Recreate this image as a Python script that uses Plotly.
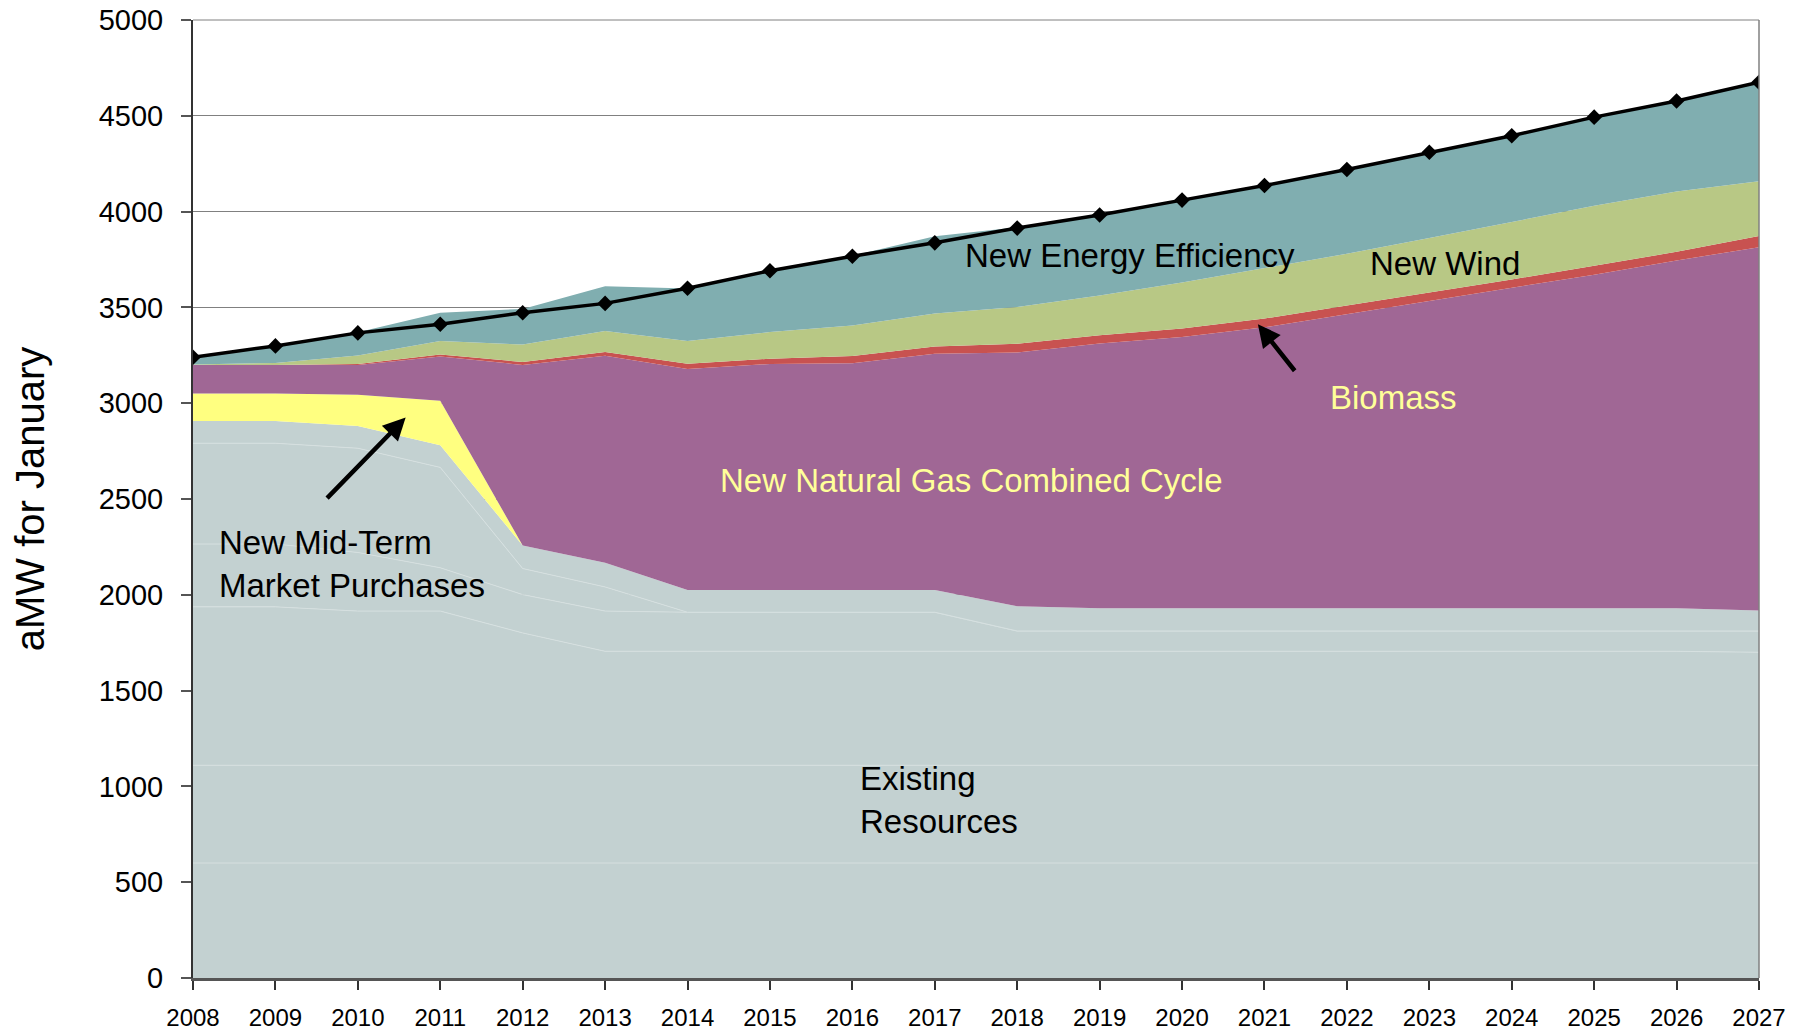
import plotly.graph_objects as go

years = list(range(2008, 2028))

# Existing resources (several sub-layers, same colour)
existing_1 = [600] * 20
existing_2 = [510] * 20
existing_3 = [827, 827, 805, 805, 691, 595, 595, 595, 595, 595, 595, 595, 595, 595, 595, 595, 595, 595, 595, 590]
existing_4 = [328, 328, 306, 226, 200, 210, 204, 204, 204, 204, 106, 106, 106, 106, 106, 106, 106, 106, 106, 111]
existing_5 = [526, 526, 544, 524, 136, 126, 0, 0, 0, 0, 0, 0, 0, 0, 0, 0, 0, 0, 0, 0]
existing_6 = [116, 116, 116, 116, 120, 126, 116, 116, 116, 116, 129, 119, 119, 119, 119, 119, 119, 119, 119, 107]

mid_term = [144, 144, 163, 232, 0, 0, 0, 0, 0, 0, 0, 0, 0, 0, 0, 0, 0, 0, 0, 0]
ngcc = [149, 149, 156, 231, 943, 1080, 1154, 1180, 1184, 1233, 1325, 1382, 1416, 1466, 1534, 1603, 1671, 1741, 1815, 1896]
biomass = [0, 0, 5, 10, 15, 20, 27, 27, 37, 38, 45, 42, 44, 46, 46, 44, 45, 47, 45, 58]
wind = [2, 10, 44, 71, 91, 110, 119, 139, 160, 172, 192, 208, 240, 263, 270, 285, 300, 312, 315, 286]
energy_eff = [38, 89, 121, 147, 186, 234, 274, 325, 364, 403, 416, 422, 430, 431, 440, 450, 451, 463, 477, 517]

load = [3240, 3299, 3367, 3412, 3472, 3521, 3600, 3691, 3767, 3837, 3914, 3982, 4060, 4136, 4220, 4310, 4396, 4493, 4577, 4675]

GRAY = "#c3d1d1"
SUBLINE = "#d6e0e0"
FONT = "Liberation Sans, Arial, sans-serif"

fig = go.Figure()

for i, vals in enumerate([existing_1, existing_2, existing_3, existing_4, existing_5, existing_6]):
    fig.add_trace(go.Scatter(
        x=years, y=vals, stackgroup="one", mode="lines",
        line=dict(width=1 if i < 5 else 0, color=SUBLINE),
        fillcolor=GRAY, name=f"Existing Resources {i+1}", showlegend=False,
        hoverinfo="x+y"))

layers = [
    (mid_term, "#ffff80", "New Mid-Term Market Purchases"),
    (ngcc, "#a06795", "New Natural Gas Combined Cycle"),
    (biomass, "#c85250", "Biomass"),
    (wind, "#b8c885", "New Wind"),
    (energy_eff, "#80aeb0", "New Energy Efficiency"),
]
for vals, col, name in layers:
    fig.add_trace(go.Scatter(
        x=years, y=vals, stackgroup="one", mode="lines",
        line=dict(width=0, color=col), fillcolor=col, name=name,
        showlegend=False))

fig.add_trace(go.Scatter(
    x=years, y=load, mode="lines+markers", name="Load",
    line=dict(color="black", width=3.5),
    marker=dict(symbol="diamond", size=12, color="black"),
    showlegend=False))

def label(text, x, y, color="black", xanchor="center", align="center"):
    fig.add_annotation(x=x, y=y, text=text, showarrow=False,
                       xanchor=xanchor, yanchor="middle", align=align,
                       font=dict(family=FONT, size=33, color=color))

label("New Energy Efficiency", 2019.37, 3773)
label("New Wind", 2023.19, 3727)
label("Biomass", 2022.56, 3032, color="#ffff99")
label("New Natural Gas Combined Cycle", 2017.44, 2599, color="#ffff99")
label("New Mid-Term<br>Market Purchases", 2008.29, 2163, xanchor="left", align="left")
label("Existing<br>Resources", 2016.07, 929, xanchor="left", align="left")

for hx, hy, ax, ay in [(2010.58, 2925, -80, 82), (2020.92, 3412, 38, 48)]:
    fig.add_annotation(x=hx, y=hy, ax=ax, ay=ay, text="", showarrow=True,
                       arrowhead=2, arrowsize=1.0, arrowwidth=4.5,
                       arrowcolor="black")

# right and top border
fig.add_shape(type="line", xref="paper", yref="paper", x0=1, x1=1, y0=0, y1=1,
              line=dict(color="#808080", width=1.5))
fig.add_shape(type="line", xref="paper", yref="paper", x0=0, x1=1, y0=1, y1=1,
              line=dict(color="#808080", width=1))

fig.update_layout(
    width=1809, height=1034,
    margin=dict(l=193, r=50, t=20, b=56, autoexpand=False),
    paper_bgcolor="white", plot_bgcolor="white",
    font=dict(family=FONT, color="black"),
    showlegend=False,
)
fig.update_xaxes(
    range=[2008, 2027], tickmode="array", tickvals=years,
    ticktext=[str(y) for y in years],
    ticks="outside", ticklen=9, tickwidth=1.5, tickcolor="#333",
    showline=True, linecolor="#555", linewidth=3,
    showgrid=False, zeroline=False, automargin=False,
    tickfont=dict(family=FONT, size=24, color="black"),
    ticklabelstandoff=7, ticklabeloverflow="allow",
)
fig.update_yaxes(
    range=[0, 5000], dtick=500, tick0=0,
    ticks="outside", ticklen=10, tickwidth=1.5, tickcolor="#555",
    showline=True, linecolor="#333", linewidth=2,
    showgrid=True, gridcolor="#808080", gridwidth=1,
    zeroline=False, automargin=False,
    tickfont=dict(family=FONT, size=29, color="black"),
    ticklabelstandoff=12, ticklabeloverflow="allow",
    title=dict(text="aMW for January", font=dict(family=FONT, size=40, color="black"), standoff=42),
)

# remove the default page margin so the figure fills the window exactly
fig.write_html("out.html", config={"displayModeBar": False},
               post_script="document.body.style.margin='0px';")
